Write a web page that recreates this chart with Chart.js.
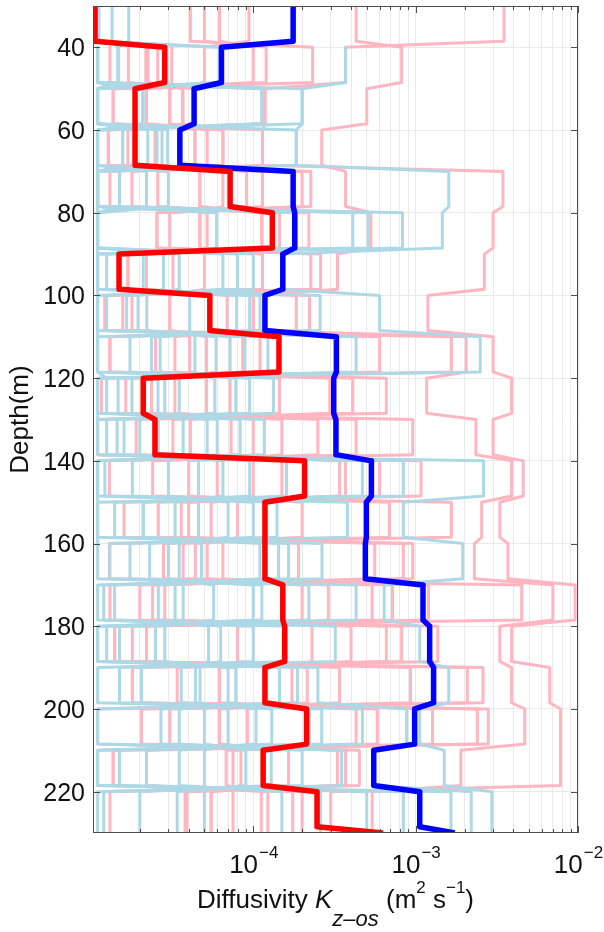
<!DOCTYPE html>
<html lang="en">
<head>
<meta charset="UTF-8" />
<title>Diffusivity profiles</title>
<script src="https://cdn.jsdelivr.net/npm/chart.js"></script>
<style>
  body { margin: 0; background: #fff; }
  #wrap { width: 604px; height: 932px; }
</style>
</head>
<body>
<div id="wrap"><canvas id="grafico"></canvas></div>

<script>
// depth bins (top of each 10 m layer) and the bottom of the profile
const depthTops = [30, 40, 50, 60, 70, 80, 90, 100, 110, 120, 130, 140, 150, 160, 170, 180, 190, 200, 210, 220];
const bottomDepth = 230;

const depthTicks = [40, 60, 80, 100, 120, 140, 160, 180, 200, 220];
const xMajorTicks = [1e-4, 1e-3, 1e-2];
const xMajorExp = ['\u22124', '\u22123', '\u22122'];

// thick profiles: one value per layer, last value is at the bottom depth
const redK = [1.06e-5, 2.85e-5, 1.87e-5, 1.87e-5, 7.2e-5, 1.31e-4, 1.49e-5, 5.4e-5, 1.44e-4, 2.1e-5,
              2.48e-5, 2.07e-4, 1.18e-4, 1.18e-4, 1.52e-4, 1.56e-4, 1.18e-4, 2.13e-4, 1.15e-4, 2.47e-4, 6.3e-4];
const blueK = [1.76e-4, 6.37e-5, 4.32e-5, 3.53e-5, 1.76e-4, 1.8e-4, 1.52e-4, 1.18e-4, 3.25e-4, 3.13e-4,
               3.23e-4, 5.34e-4, 4.97e-4, 4.9e-4, 1.11e-3, 1.22e-3, 1.29e-3, 9.86e-4, 5.52e-4, 1.06e-3, 1.74e-3];

// thin profiles, one row per layer, one column per profile
const pinkK = [
  [4.1e-5, 5.0e-5, 6.2e-5, 9.4e-5, null, null, null, null, null, null, 4.3e-4, 3.5e-3],
  [2.32e-4, 1.2e-4, 1.0e-4, 5.0e-5, 3.15e-5, 2.58e-5, 2.25e-5, 2.18e-5, 1.7e-5, 1.31e-5, 8.2e-4, 3.7e-4],
  [1.37e-5, 1.37e-5, 2.2e-5, 3.06e-5, 3.06e-5, 3.68e-5, 3.68e-5, 4.37e-5, 4.37e-5, 1.18e-4, 5.0e-4, 1.18e-4],
  [1.14e-4, 6.5e-5, 6.5e-5, 5.2e-5, 4.37e-5, 4.37e-5, 2.48e-5, 1.69e-5, 1.28e-5, 1.28e-5, 2.64e-4, 1.14e-4],
  [1.31e-5, 1.79e-5, 2.58e-5, 4.69e-5, 4.69e-5, 6.5e-5, 9.1e-5, 1.14e-4, 2.0e-4, 2.26e-4, 3.7e-4, 3.45e-3],
  [2.2e-4, 1.45e-4, 1.13e-4, 1.13e-4, 5.2e-5, 4.69e-5, 4.69e-5, 3.06e-5, 2.55e-5, 2.55e-5, 5.3e-4, 3.0e-3],
  [1.5e-5, 1.69e-5, 1.69e-5, 2.2e-5, 3.2e-5, 5.0e-5, 8.0e-5, 1.14e-4, 2.26e-4, 2.6e-4, 3.3e-4, 2.65e-3],
  [2.22e-4, 1.84e-4, 1.0e-4, 6.9e-5, 3.06e-5, 3.06e-5, 1.79e-5, 1.57e-5, 1.22e-5, 1.22e-5, 1.0e-4, 1.19e-3],
  [1.31e-5, 1.31e-5, 2.5e-5, 3.29e-5, 4.06e-5, 5.15e-5, 8.6e-5, 1.1e-4, 6.0e-4, 1.66e-3, 2.05e-3, 3.0e-3],
  [6.6e-4, 4.1e-4, 2.96e-4, 1.45e-4, 7.2e-5, 5.15e-5, 3.29e-5, 2.36e-5, 1.64e-5, 1.16e-5, 1.17e-3, 3.9e-3],
  [1.1e-5, 1.9e-5, 3.2e-5, 4.1e-5, 7.3e-5, 1.0e-4, 1.5e-4, 2.5e-4, 4.3e-4, 9.6e-4, 2.35e-3, 3.0e-3],
  [1.08e-3, 6.0e-4, 3.7e-4, 3.4e-4, 1.5e-4, 1.0e-4, 6.0e-5, 4.0e-5, 2.4e-5, 1.3e-5, 3.9e-3, 4.6e-3],
  [1.6e-5, 2.6e-5, 3.6e-5, 4.0e-5, 5.5e-5, 8.0e-5, 1.2e-4, 2.0e-4, 6.9e-4, 1.66e-3, 2.55e-3, 3.3e-3],
  [9.6e-4, 8.4e-4, 5.6e-4, 1.9e-4, 6.5e-5, 5.2e-5, 4.4e-5, 3.7e-5, 2.8e-5, 1.3e-5, 2.3e-3, 3.7e-3],
  [1.31e-5, 2.0e-5, 2.4e-5, 2.85e-5, 2.0e-4, 2.9e-4, 5.4e-4, 7.2e-4, 1.2e-3, 4.5e-3, 7.0e-3, 9.6e-3],
  [1.37e-3, 8.2e-4, 6.6e-4, 4.0e-4, 2.3e-4, 8.0e-5, 2.2e-5, 1.8e-5, 1.4e-5, 1.4e-5, 3.3e-3, 3.9e-3],
  [1.8e-5, 1.8e-5, 3.4e-5, 6.2e-5, 1.73e-4, 2.15e-4, 3.4e-4, 9.3e-4, 2.08e-3, 2.6e-3, 3.9e-3, 6.7e-3],
  [2.8e-3, 2.4e-3, 1.27e-3, 5.8e-4, 4.3e-4, 9.2e-5, 6.2e-5, 3.06e-5, 2.05e-5, 1.1e-5, 4.7e-3, 7.8e-3],
  [1.37e-5, 1.37e-5, 2.2e-5, 6.8e-5, 7.5e-5, 8.4e-5, 1.65e-4, 3.3e-4, 3.7e-4, 4.5e-4, 1.9e-3, 7.8e-3],
  [2.0e-4, 1.75e-4, 1.23e-4, 1.12e-4, 7.5e-5, 5.5e-5, 5.5e-5, 3.9e-5, 3.8e-5, 1.31e-5, 5.4e-4, 3.0e-4]
];

const lightBlueK = [
  [1.08e-5, 1.12e-5, 1.35e-5, 1.71e-5, null, null, null, null, null, null, null, null],
  [6.2e-5, 6.2e-5, 1.47e-5, 1.47e-5, 1.47e-5, 1.1e-5, 1.1e-5, 1.1e-5, 1.1e-5, 1.1e-5, 1.1e-5, 3.7e-4],
  [1.1e-5, 1.1e-5, 1.1e-5, 1.1e-5, 1.1e-5, 2.09e-5, 2.09e-5, 2.09e-5, 1.13e-4, 1.13e-4, 2.0e-4, 2.0e-4],
  [1.84e-4, 2.97e-5, 2.74e-5, 2.55e-5, 2.24e-5, 1.57e-5, 1.57e-5, 1.1e-5, 1.1e-5, 1.1e-5, 1.1e-5, 1.84e-4],
  [1.1e-5, 1.1e-5, 1.1e-5, 1.1e-5, 1.1e-5, 1.1e-5, 1.5e-5, 2.2e-5, 3.0e-5, 1.1e-5, 1.1e-5, 1.6e-3],
  [8.3e-4, 5.1e-4, 4.1e-4, 1.84e-4, 5.96e-5, 5.96e-5, 1.1e-5, 1.1e-5, 1.1e-5, 1.1e-5, 1.1e-5, 1.46e-3],
  [1.1e-5, 1.1e-5, 1.1e-5, 1.25e-5, 2.1e-5, 2.8e-5, 3.5e-5, 6.5e-5, 8.0e-5, 1.0e-4, 1.1e-5, 1.5e-4],
  [2.58e-4, 1.1e-4, 9.5e-5, 7.9e-5, 4.06e-5, 2.21e-5, 1.95e-5, 1.66e-5, 1.25e-5, 1.1e-5, 1.1e-5, 6.0e-4],
  [1.1e-5, 1.74e-5, 2.36e-5, 2.67e-5, 4.37e-5, 5.9e-5, 7.2e-5, 8.9e-5, 1.23e-4, 1.1e-5, 4.3e-4, 2.5e-3],
  [1.33e-4, 9.5e-5, 7.8e-5, 5.8e-5, 3.5e-5, 2.85e-5, 2.59e-5, 1.79e-5, 1.47e-5, 1.25e-5, 1.1e-5, 1.1e-5],
  [1.1e-5, 1.25e-5, 1.45e-5, 1.6e-5, 2.0e-5, 2.6e-5, 3.7e-5, 5.2e-5, 6.0e-5, 8.3e-5, 1.17e-4, 1.1e-5],
  [8.4e-4, 4.7e-4, 1.6e-4, 9.5e-5, 6.5e-5, 4.6e-5, 3.0e-5, 1.8e-5, 1.22e-5, 1.1e-5, 1.1e-5, 2.62e-3],
  [1.1e-5, 1.4e-5, 2.1e-5, 2.1e-5, 3.3e-5, 4.6e-5, 7.0e-5, 1.0e-4, 1.4e-4, 3.8e-4, 1.1e-5, 8.4e-4],
  [2.65e-4, 1.65e-4, 1.43e-4, 1.1e-4, 4.8e-5, 3.5e-5, 3.0e-5, 2.3e-5, 1.74e-5, 1.31e-5, 1.1e-5, 1.95e-3],
  [1.1e-5, 1.2e-5, 1.4e-5, 2.6e-5, 3.3e-5, 3.7e-5, 5.7e-5, 1.0e-4, 1.13e-4, 2.2e-4, 4.3e-4, 6.4e-4],
  [3.2e-4, 1.6e-4, 1.0e-4, 6.3e-5, 5.3e-5, 2.85e-5, 2.5e-5, 1.5e-5, 1.25e-5, 1.1e-5, 1.1e-5, 1.06e-3],
  [1.1e-5, 1.5e-5, 2.05e-5, 3.6e-5, 4.4e-5, 4.7e-5, 7.0e-5, 7.8e-5, 1.45e-4, 1.87e-4, 2.5e-4, 1.6e-3],
  [4.7e-4, 2.64e-4, 2.22e-4, 1.3e-4, 1.04e-4, 7.0e-5, 5.0e-5, 3.5e-5, 2.7e-5, 1.1e-5, 8.8e-4, 1.06e-3],
  [1.1e-5, 1.1e-5, 1.5e-5, 2.2e-5, 3.5e-5, 5.0e-5, 9.0e-5, 1.29e-4, 2.0e-4, 3.5e-4, 5.5e-4, 1.5e-3],
  [1.65e-3, 8.4e-4, 5.0e-4, 2.6e-4, 1.5e-4, 5.0e-5, 3.4e-5, 2.0e-5, 1.2e-5, 1.1e-5, 2.2e-3, 2.95e-3]
];

// how much of each 10 m layer is flat before the step to the next one
const flatPart = 8.5;

function pontosPerfil(vals, fim) {
  const pts = [];
  depthTops.forEach((d, i) => {
    const v = vals[i];
    if (v == null) return;
    pts.push({ x: v, y: d }, { x: v, y: d + flatPart });
  });
  pts.push({ x: fim, y: bottomDepth });
  return pts;
}

function coluna(tabela, k) {
  return tabela.map(linha => linha[k]);
}

const datasets = [];
datasets.push({ data: pontosPerfil(redK.slice(0, 20), redK[20]), borderColor: '#ff0000', borderWidth: 5.5 });
datasets.push({ data: pontosPerfil(blueK.slice(0, 20), blueK[20]), borderColor: '#0000ff', borderWidth: 5.5 });
for (let k = 0; k < lightBlueK[0].length; k++) {
  const c = coluna(lightBlueK, k);
  datasets.push({ data: pontosPerfil(c, c[c.length - 1]), borderColor: '#add8e6', borderWidth: 3 });
}
for (let k = 0; k < pinkK[0].length; k++) {
  const c = coluna(pinkK, k);
  datasets.push({ data: pontosPerfil(c, c[c.length - 1]), borderColor: '#ffb6c1', borderWidth: 3 });
}
datasets.forEach(ds => {
  ds.showLine = true;
  ds.pointRadius = 0;
  ds.borderJoinStyle = 'round';
  ds.fill = false;
});

const fonte = '"Liberation Sans", Arial, Helvetica, sans-serif';

// axes frame, inward ticks and all texts (superscripts need manual drawing)
const moldura = {
  id: 'moldura',
  afterDraw(chart) {
    const { ctx, chartArea: a, scales: { x, y } } = chart;
    ctx.save();

    ctx.strokeStyle = '#4d4d4d';
    ctx.lineWidth = 1;
    ctx.strokeRect(a.left + 0.5, a.top + 0.5, a.right - a.left - 1, a.bottom - a.top - 1);

    ctx.beginPath();
    x.ticks.forEach(t => {
      const px = Math.round(x.getPixelForValue(t.value)) + 0.5;
      const len = xMajorTicks.includes(t.value) ? 7 : 4;
      ctx.moveTo(px, a.top); ctx.lineTo(px, a.top + len);
      ctx.moveTo(px, a.bottom); ctx.lineTo(px, a.bottom - len);
    });
    depthTicks.forEach(v => {
      const py = Math.round(y.getPixelForValue(v)) + 0.5;
      ctx.moveTo(a.left, py); ctx.lineTo(a.left + 7, py);
      ctx.moveTo(a.right, py); ctx.lineTo(a.right - 7, py);
    });
    ctx.stroke();

    ctx.fillStyle = '#111';
    // depth labels
    ctx.font = '25px ' + fonte;
    ctx.textAlign = 'right';
    ctx.textBaseline = 'middle';
    depthTicks.forEach(v => {
      ctx.fillText(String(v), a.left - 8, y.getPixelForValue(v) + 2);
    });

    // 10^n labels
    ctx.textAlign = 'left';
    ctx.textBaseline = 'alphabetic';
    xMajorTicks.forEach((v, i) => {
      ctx.font = '26px ' + fonte;
      const wb = ctx.measureText('10').width;
      ctx.font = '17px ' + fonte;
      const we = ctx.measureText(xMajorExp[i]).width;
      const x0 = x.getPixelForValue(v) - (wb + we) / 2;
      ctx.font = '26px ' + fonte;
      ctx.fillText('10', x0, 873);
      ctx.font = '17px ' + fonte;
      ctx.fillText(xMajorExp[i], x0 + wb + 1, 858);
    });

    // x title: Diffusivity K_{z-os} (m^2 s^-1)
    const partes = [
      { t: 'Diffusivity ', f: '26px ' + fonte, dy: 0 },
      { t: 'K', f: 'italic 26px ' + fonte, dy: 0 },
      { t: 'z\u2013os', f: 'italic 22px ' + fonte, dy: 18 },
      { t: ' (m', f: '26px ' + fonte, dy: 0 },
      { t: '2', f: '17px ' + fonte, dy: -15 },
      { t: ' s', f: '26px ' + fonte, dy: 0 },
      { t: '\u22121', f: '17px ' + fonte, dy: -15 },
      { t: ')', f: '26px ' + fonte, dy: 0 }
    ];
    let total = 0;
    partes.forEach(p => { ctx.font = p.f; p.w = ctx.measureText(p.t).width; total += p.w; });
    let cx = (a.left + a.right) / 2 - total / 2;
    partes.forEach(p => {
      ctx.font = p.f;
      ctx.fillText(p.t, cx, 908 + p.dy);
      cx += p.w;
    });

    // y title
    ctx.translate(21, (a.top + a.bottom) / 2);
    ctx.rotate(-Math.PI / 2);
    ctx.textAlign = 'center';
    ctx.textBaseline = 'middle';
    ctx.font = '26px ' + fonte;
    ctx.fillText('Depth(m)', 0, 0);

    ctx.restore();
  }
};

new Chart(document.getElementById('grafico').getContext('2d'), {
  type: 'scatter',
  data: { datasets },
  options: {
    responsive: true,
    maintainAspectRatio: false,
    animation: false,
    events: [],
    layout: { padding: { left: 93, right: 26, top: 6, bottom: 99 } },
    plugins: { legend: { display: false }, tooltip: { enabled: false } },
    scales: {
      x: {
        type: 'logarithmic',
        min: 1.03e-5,
        max: 1e-2,
        ticks: { display: false },
        grid: { color: '#e9e9e9', lineWidth: 1, drawTicks: false },
        border: { display: false },
        afterBuildTicks(scale) {
          const t = [];
          [1e-5, 1e-4, 1e-3].forEach(base => {
            [1, 2, 3, 4, 5, 6, 7, 8, 9].forEach(m => {
              const v = base * m;
              if (v > scale.min && v < scale.max) t.push({ value: v });
            });
          });
          t.push({ value: 1e-2 });
          scale.ticks = t;
        },
        afterFit(scale) { scale.height = 0; }
      },
      y: {
        type: 'linear',
        reverse: true,
        min: 30,
        max: 230,
        ticks: { display: false },
        grid: { color: '#e9e9e9', lineWidth: 1, drawTicks: false },
        border: { display: false },
        afterBuildTicks(scale) {
          scale.ticks = depthTicks.map(v => ({ value: v }));
        },
        afterFit(scale) { scale.width = 0; }
      }
    }
  },
  plugins: [moldura]
});
</script>
</body>
</html>
